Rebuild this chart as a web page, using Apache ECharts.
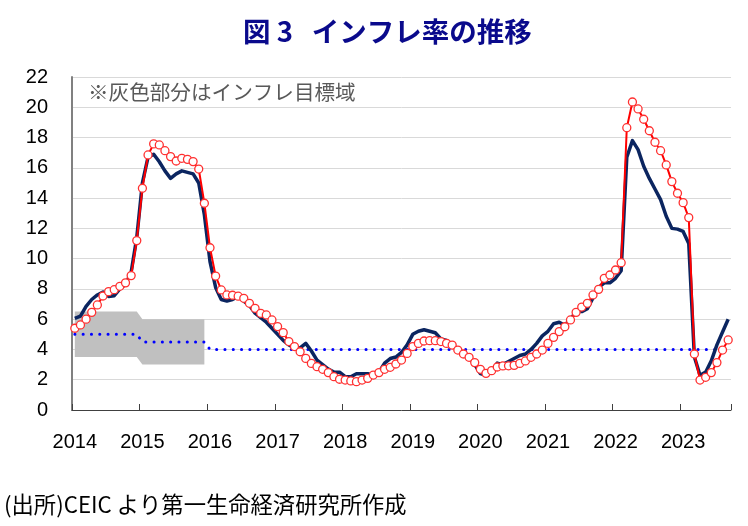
<!DOCTYPE html>
<html>
<head>
<meta charset="utf-8">
<script src="https://cdn.jsdelivr.net/npm/echarts@6/dist/echarts.min.js"></script>
<style>html,body{margin:0;padding:0;background:#fff}#c{width:748px;height:526px}</style>
</head>
<body>
<div id="c"></div>
<script>
// Monthly categories Jan 2014 - Sep 2023
const months = [];
for (let y = 2014; y <= 2023; y++) {
  for (let m = 1; m <= 12; m++) {
    if (y === 2023 && m > 9) break;
    months.push(y + '-' + String(m).padStart(2, '0'));
  }
}
const yearLabels = ['2014','2015','2016','2017','2018','2019','2020','2021','2022','2023'];

// navy line (headline inflation, %)
const headline = [
  6.05, 6.2, 6.85, 7.3, 7.6, 7.8, 7.5, 7.55, 8.0, 8.3, 9.1, 11.4,
  15.0, 16.7, 16.9, 16.4, 15.8, 15.3, 15.6, 15.8, 15.7, 15.6, 15.0, 12.9,
  9.8, 8.1, 7.3, 7.2, 7.3, 7.5, 7.2, 6.9, 6.4, 6.1, 5.8, 5.4,
  5.0, 4.6, 4.3, 4.1, 4.1, 4.4, 3.9, 3.3, 3.0, 2.7, 2.5, 2.5,
  2.2, 2.2, 2.4, 2.4, 2.4, 2.3, 2.5, 3.1, 3.4, 3.5, 3.8, 4.3,
  5.0, 5.2, 5.3, 5.2, 5.1, 4.7, 4.6, 4.3, 4.0, 3.8, 3.5, 3.0,
  2.4, 2.3, 2.5, 3.1, 3.0, 3.2, 3.4, 3.6, 3.7, 4.0, 4.4, 4.9,
  5.2, 5.7, 5.8, 5.6, 6.0, 6.5, 6.5, 6.7, 7.4, 8.1, 8.4, 8.4,
  8.7, 9.2, 16.7, 17.8, 17.2, 16.1, 15.3, 14.6, 13.9, 12.8, 12.0, 11.95,
  11.8, 11.0, 3.5, 2.3, 2.5, 3.25, 4.3, 5.15, 6.0
];

// red line with circle markers (%)
const core = [
  5.4, 5.62, 6.0, 6.45, 6.94, 7.53, 7.82, 7.95, 8.17, 8.4, 8.88, 11.19,
  14.65, 16.85, 17.58, 17.51, 17.13, 16.74, 16.45, 16.63, 16.56, 16.41, 15.92, 13.66,
  10.72, 8.85, 7.93, 7.6, 7.58, 7.52, 7.38, 7.05, 6.72, 6.39, 6.28, 5.95,
  5.51, 5.11, 4.52, 4.19, 3.85, 3.41, 3.08, 2.86, 2.69, 2.47, 2.20, 2.03,
  1.98, 1.92, 1.87, 1.98, 2.09, 2.31, 2.47, 2.69, 2.82, 3.04, 3.30, 3.74,
  4.19, 4.40, 4.56, 4.58, 4.58, 4.52, 4.40, 4.29, 3.96, 3.70, 3.48, 3.13,
  2.69, 2.42, 2.60, 2.84, 2.91, 2.92, 2.95, 3.08, 3.24, 3.48, 3.70, 3.96,
  4.4, 4.8, 5.18, 5.5, 5.95, 6.45, 6.8, 7.05, 7.60, 7.97, 8.70, 8.92,
  9.25, 9.73, 18.65, 20.35, 19.89, 19.21, 18.45, 17.69, 17.13, 16.19, 15.09, 14.32,
  13.70, 12.71, 3.70, 1.98, 2.16, 2.47, 3.13, 3.96, 4.63
];

// inflation target (dotted line) and target range (grey band)
const targetPoint = months.map((m, i) => i < 12 ? 5 : (i < 24 ? 4.5 : 4));
const bandLow = months.map((m, i) => i < 12 ? 3.5 : (i < 24 ? 3 : '-'));
const bandWidth = months.map((m, i) => i < 24 ? 3 : '-');

const chart = echarts.init(document.getElementById('c'), null, {renderer: 'canvas'});
const labelFont = '"Liberation Sans", Arial, sans-serif';
chart.setOption({
  animation: false,
  backgroundColor: '#fff',
  title: {
    text: '図 3   インフレ率の推移',
    left: 238,
    top: 13,
    textStyle: {
      fontFamily: '"Noto Sans CJK JP", sans-serif',
      fontSize: 27.5, fontWeight: 'bold', color: '#0a0a8c'
    }
  },
  grid: {left: 72, right: 17, top: 77, bottom: 116, containLabel: false},
  xAxis: {
    type: 'category',
    data: months,
    boundaryGap: true,
    axisLine: {lineStyle: {color: '#404040', width: 1}},
    axisTick: {show: true, inside: true, length: 6, interval: 11, lineStyle: {color: '#404040'}},
    axisLabel: {
      interval: 11, margin: 22,
      fontFamily: labelFont, fontSize: 20, color: '#000',
      formatter: function (v) { return yearLabels[yearLabels.indexOf(v.slice(0, 4))]; }
    },
    splitLine: {show: false}
  },
  yAxis: {
    type: 'value',
    min: 0, max: 22, interval: 2,
    axisLine: {show: true, lineStyle: {color: '#808080', width: 2}},
    axisTick: {show: false},
    axisLabel: {margin: 24, fontFamily: labelFont, fontSize: 20, color: '#000'},
    splitLine: {show: true, lineStyle: {color: '#d9d9d9', width: 1}}
  },
  graphic: [
    {type: 'text', left: 88, top: 82, style: {text: '※灰色部分はインフレ目標域', font: '20.6px "Noto Sans CJK JP"', fill: '#595959'}},
    {type: 'text', left: 4, top: 493, style: {text: '(出所)CEIC より第一生命経済研究所作成', font: '22.3px "Noto Sans CJK JP"', fill: '#000'}}
  ],
  series: [
    {
      type: 'line', data: bandLow, stack: 'band',
      symbol: 'none', lineStyle: {width: 0, opacity: 0}, silent: true
    },
    {
      type: 'line', data: bandWidth, stack: 'band',
      symbol: 'none', lineStyle: {width: 0, opacity: 0},
      areaStyle: {color: '#c0c0c0', opacity: 1}, silent: true
    },
    {
      type: 'line', data: targetPoint, symbol: 'none',
      lineStyle: {color: '#0000ff', width: 3, type: [0.1, 8.2], cap: 'round'}
    },
    {
      type: 'line', data: headline, symbol: 'none',
      lineStyle: {color: '#0b2560', width: 3.5, join: 'round'}
    },
    {
      type: 'line', data: core, symbol: 'circle', symbolSize: 8, showAllSymbol: true,
      lineStyle: {color: '#ff0000', width: 2},
      itemStyle: {color: '#ffffff', borderColor: '#ff3030', borderWidth: 1.3}
    }
  ]
});
</script>
</body>
</html>
